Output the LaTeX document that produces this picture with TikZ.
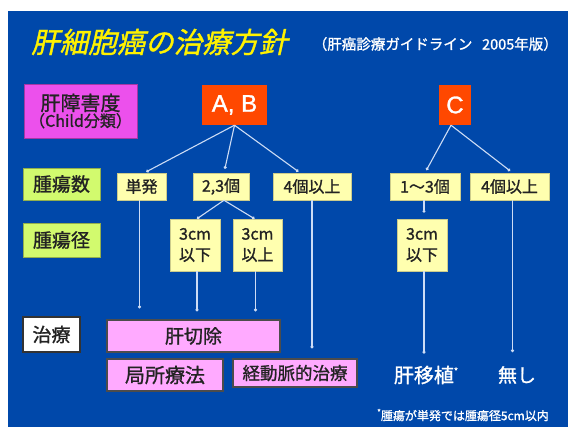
\documentclass[tikz,border=0pt]{standalone}
\usepackage{fontspec}
\setmainfont{Noto Sans CJK JP}[FakeBold=1.2]
\newfontfamily\jpit[FakeSlant=0.22,FakeBold=1.2]{Noto Sans CJK JP}
\newfontfamily\jplat[FakeBold=1.2]{Liberation Sans}
\usetikzlibrary{arrows.meta}
\definecolor{bgblue}{RGB}{0,72,170}
\definecolor{magbox}{RGB}{236,80,236}
\definecolor{orgbox}{RGB}{255,72,0}
\definecolor{grnbox}{RGB}{210,250,110}
\definecolor{ylwbox}{RGB}{255,255,175}
\definecolor{pnkbox}{RGB}{255,170,255}
\definecolor{lineclr}{RGB}{205,220,245}
\definecolor{txtdark}{RGB}{35,35,35}
\tikzset{
  box/.style={inner sep=0pt, align=center, text=txtdark},
  lbl/.style={box, fill=grnbox, draw=grnbox!70!black, line width=0.6pt},
  ylw/.style={box, fill=ylwbox, draw=ylwbox!80!black, line width=0.5pt},
  pnk/.style={box, fill=pnkbox, draw=black!70, line width=1.2pt},
  grade/.style={inner sep=0pt, fill=orgbox, text=white},
  conn/.style={draw=lineclr, line width=1.1pt, -{Circle[length=3pt]}},
  fs/.style={font=\fontsize{#1}{#1}\selectfont}
}
\begin{document}
\begin{tikzpicture}[x=1pt,y=-1pt]
\useasboundingbox (0,0) rectangle (568,427);
\fill[white] (0,0) rectangle (568,427);
\fill[bgblue] (8,11) rectangle (568,427);
% title
\node[anchor=west, inner sep=0pt, text=yellow, font=\fontsize{28.5}{28.5}\jpit] (title) at (31,42) {肝細胞癌の治療方針};
\node[anchor=east, inner sep=0pt, text=white, font=\fontsize{14.5}{14.5}\selectfont] (sub) at (558,44) {（肝癌診療ガイドライン\ \ \ 2005年版）};
% left labels
\node[box, fill=magbox, draw=magbox!70!black, line width=0.6pt, minimum width=113pt, minimum height=54pt] (child) at (80.5,111)
  {{\fontsize{20}{24}\selectfont 肝障害度}\\[0pt]{\fontsize{16}{18}\selectfont （Child分類）}};
\node[lbl, minimum width=77pt, minimum height=32pt, fs=19] (nsu) at (61.5,184) {腫瘍数};
\node[lbl, minimum width=77pt, minimum height=34pt, fs=19] (kei) at (61.5,240) {腫瘍径};
\node[box, fill=white, draw=black!80, line width=1.4pt, minimum width=57pt, minimum height=35pt, fs=19] (chiryo) at (51.5,334.5) {治療};
% grades
\node[grade, minimum width=65pt, minimum height=40pt, font=\fontsize{24}{24}\jplat] (ab) at (234.5,105) {A, B};
\node[grade, minimum width=32pt, minimum height=40pt, font=\fontsize{24}{24}\jplat] (c) at (455,105) {C};
% number row
\node[ylw, minimum width=49pt, minimum height=27pt, fs=16] (tan) at (141.5,186.5) {単発};
\node[ylw, minimum width=56pt, minimum height=27pt, fs=16] (n23) at (221,186.5) {2,3個};
\node[ylw, minimum width=78pt, minimum height=27pt, fs=16] (n4ab) at (312,186.5) {4個以上};
\node[ylw, minimum width=70pt, minimum height=27pt, fs=16] (n13) at (425,186.5) {1〜3個};
\node[ylw, minimum width=79pt, minimum height=27pt, fs=16] (n4c) at (509.5,186.5) {4個以上};
% size row
\node[ylw, minimum width=50pt, minimum height=52pt, font=\fontsize{16}{21}\selectfont] (s3a) at (195,245) {3cm\\以下};
\node[ylw, minimum width=49pt, minimum height=52pt, font=\fontsize{16}{21}\selectfont] (s3b) at (257.5,245) {3cm\\以上};
\node[ylw, minimum width=50pt, minimum height=52pt, font=\fontsize{16}{21}\selectfont] (s3c) at (422,245) {3cm\\以下};
% treatments
\node[pnk, minimum width=173pt, minimum height=32pt, fs=19] (kansetsu) at (193.5,336) {肝切除};
\node[pnk, minimum width=116pt, minimum height=32pt, fs=20] (kyokusho) at (165,375) {局所療法};
\node[pnk, minimum width=124pt, minimum height=28pt, fs=17.5] (keido) at (295,373) {経動脈的治療};
\node[inner sep=0pt, text=white, fs=20] (ishoku) at (426,375) {肝移植\raisebox{8pt}{\fontsize{9}{9}\selectfont *}};
\node[inner sep=0pt, text=white, fs=19] (nashi) at (517,375) {無し};
\node[inner sep=0pt, text=white, fs=12] (note) at (463,415) {\raisebox{5pt}{\fontsize{8}{8}\selectfont *}腫瘍が単発では腫瘍径5cm以内};
% connectors
\draw[conn, shorten >=2pt] (ab.south) -- ([xshift=3pt]tan.north);
\draw[conn, shorten >=4pt] (ab.south) -- ([xshift=3pt]n23.north);
\draw[conn, shorten >=2pt] (ab.south) -- ([xshift=-12pt]n4ab.north);
\draw[conn, shorten >=3pt] ([xshift=-4pt]c.south) -- (n13.north);
\draw[conn, shorten >=3pt] ([xshift=-4pt]c.south) -- ([xshift=3pt]n4c.north);
\draw[conn] ([xshift=3pt]n23.south) -- ([xshift=2pt]s3a.north);
\draw[conn] ([xshift=3pt]n23.south) -- ([xshift=-3pt]s3b.north);
\draw[conn, shorten >=6pt] ([xshift=-1pt]n13.south) -- ([xshift=2pt]s3c.north);
\draw[conn, shorten >=11pt] ([xshift=-2pt]tan.south) -- ([xshift=-2pt]tan.south |- kansetsu.north);
\draw[conn, shorten >=8pt] ([xshift=2pt]s3a.south) -- ([xshift=2pt]s3a.south |- kansetsu.north);
\draw[conn, shorten >=8pt] ([xshift=-2pt]s3b.south) -- ([xshift=-2pt]s3b.south |- kansetsu.north);
\draw[conn, shorten >=10pt] (n4ab.south) -- (n4ab.south |- keido.north);
\draw[conn, shorten >=12pt] ([xshift=2pt]s3c.south) -- ([xshift=2pt]s3c.south |- ishoku.north);
\draw[conn, shorten >=14pt] ([xshift=3pt]n4c.south) -- ([xshift=3pt]n4c.south |- nashi.north);
\end{tikzpicture}
\end{document}
